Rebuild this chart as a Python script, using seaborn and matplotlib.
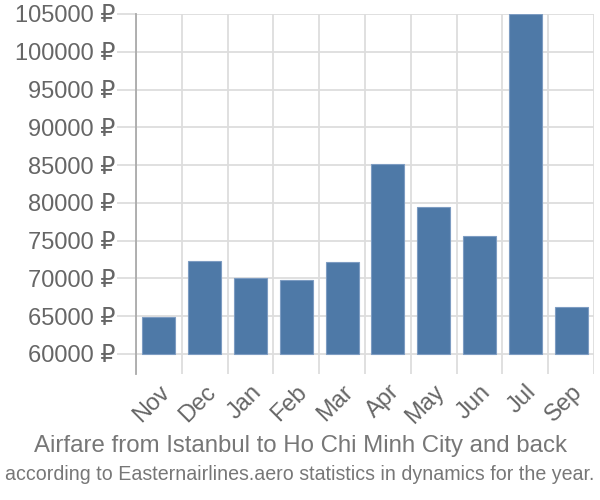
import pandas as pd
import matplotlib
matplotlib.use('Agg')
import matplotlib.pyplot as plt
import seaborn as sns
from matplotlib.ticker import FixedLocator

months = ['Nov', 'Dec', 'Jan', 'Feb', 'Mar', 'Apr', 'May', 'Jun', 'Jul', 'Sep']
prices = [64850, 72280, 70090, 69740, 72240, 85100, 79510, 75660, 105000, 66280]
yticks = [60000, 65000, 70000, 75000, 80000, 85000, 90000, 95000, 100000, 105000]
base = 60000

title1 = 'Airfare from Istanbul to Ho Chi Minh City and back'
title2 = 'according to Easternairlines.aero statistics in dynamics for the year.'

sns.set_style('white')
plt.rcParams['font.family'] = ['Liberation Sans', 'DejaVu Sans']

df = pd.DataFrame({'month': months, 'height': [p - base for p in prices]})

fig = plt.figure(figsize=(6, 5), dpi=100)
ax = fig.add_axes([136 / 600, 1 - 374 / 500, 458 / 600, 360 / 500])

sns.barplot(data=df, x='month', y='height', color='#4e79a7', saturation=1,
            width=0.72, bottom=base, edgecolor='#7d9cc2', linewidth=0.8,
            ax=ax, zorder=3)

ax.set_xlim(-0.5, len(months) - 0.5)
ax.set_ylim(base - 2650, 105000)
ax.yaxis.set_major_locator(FixedLocator(yticks))
ax.set_yticklabels([f'{v} ₽' for v in yticks])
ax.xaxis.set_minor_locator(FixedLocator([i + 0.5 for i in range(-1, len(months))]))

ax.grid(False)
ax.yaxis.grid(True, which='major', color='#dddddd', linewidth=1.3, zorder=0)
ax.xaxis.grid(True, which='minor', color='#dddddd', linewidth=1.3, zorder=0)
ax.set_axisbelow(True)

for s in ['top', 'right', 'bottom']:
    ax.spines[s].set_visible(False)
ax.spines['left'].set_color('#aaaaaa')
ax.spines['left'].set_linewidth(1.3)

ax.tick_params(axis='y', which='major', length=14, width=1.3, color='#dddddd',
               labelsize=17, labelcolor='#666666', pad=1, left=True)
ax.tick_params(axis='x', which='major', length=0, labelsize=17,
               labelcolor='#666666', pad=5)
ax.tick_params(axis='x', which='minor', length=0)
for lbl in ax.get_xticklabels():
    lbl.set_rotation(45)
    lbl.set_ha('right')
    lbl.set_va('top')
    lbl.set_rotation_mode('anchor')

ax.set_xlabel('')
ax.set_ylabel('')

fig.text(0.5, 1 - 446 / 500, title1, ha='center', va='center',
         fontsize=17.3, color='#777777')
fig.text(0.5, 1 - 475 / 500, title2, ha='center', va='center',
         fontsize=14.1, color='#777777')

fig.savefig('out.png', dpi=100)
